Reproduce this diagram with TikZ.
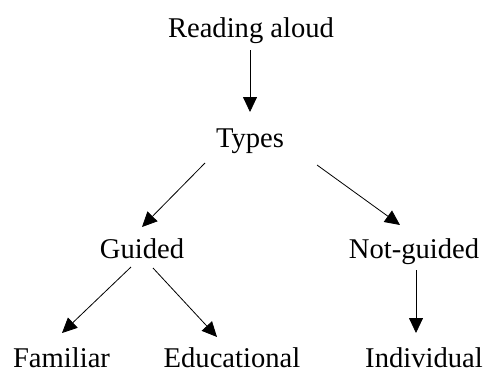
\documentclass[tikz,border=0pt]{standalone}
\usepackage{fontspec}
\setmainfont{Liberation Serif}
\usetikzlibrary{arrows.meta}
\begin{document}
\begin{tikzpicture}[x=1pt,y=-1pt,
  lbl/.style={anchor=base,inner sep=0pt,font=\fontsize{28.6}{34}\selectfont},
  arr/.style={line width=0.8pt,-{Triangle[length=15pt,width=14pt]}}]
\useasboundingbox (0,0) rectangle (484,372);
\node[lbl] (reading) at (251,37) {Reading aloud};
\node[lbl] (types) at (250,147) {Types};
\node[lbl] (guided) at (142,258) {Guided};
\node[lbl] (notguided) at (414,258) {Not-guided};
\node[lbl] (familiar) at (61.5,367) {Familiar};
\node[lbl] (educational) at (232,367) {Educational};
\node[lbl] (individual) at (424,367) {Individual};
\draw[arr] ([shift={(-1,13)}]reading.base) -- ([shift={(0,-35)}]types.base);
\draw[arr] ([shift={(-45,16)}]types.base) -- ([shift={(0,-31)}]guided.base);
\draw[arr] ([shift={(67,18)}]types.base) -- ([shift={(-14,-33)}]notguided.base);
\draw[arr] ([shift={(-11,9)}]guided.base) -- ([shift={(0.5,-34)}]familiar.base);
\draw[arr] ([shift={(11,10)}]guided.base) -- ([shift={(-15,-30)}]educational.base);
\draw[arr] ([shift={(2,12)}]notguided.base) -- ([shift={(-8,-34)}]individual.base);
\end{tikzpicture}
\end{document}
